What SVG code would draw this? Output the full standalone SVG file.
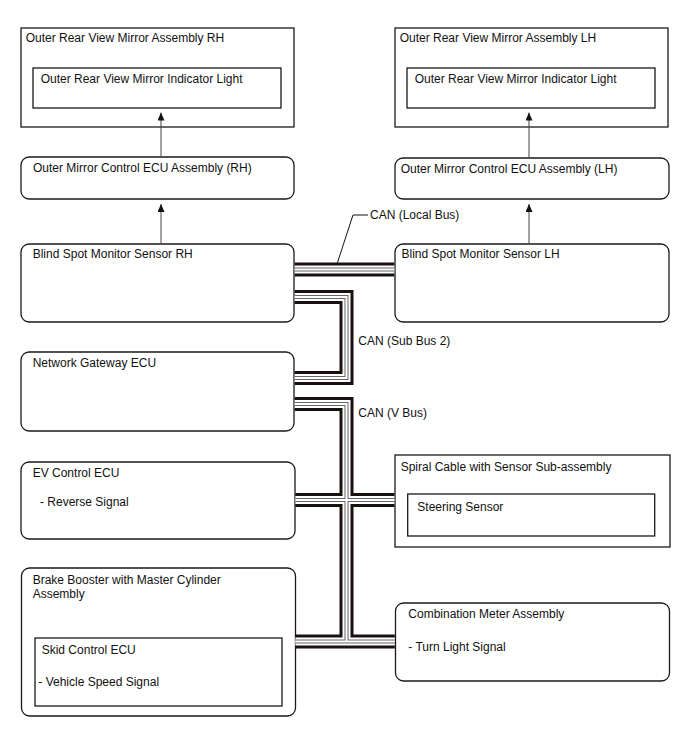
<svg xmlns="http://www.w3.org/2000/svg" width="688" height="755" viewBox="0 0 688 755">
<style>
text{font-family:"Liberation Sans",Arial,sans-serif;font-size:12px;fill:#111}
.box{fill:#fff;stroke:#1a1a1a;stroke-width:1.3}
.in{fill:#fff;stroke:#1a1a1a;stroke-width:1.3}
.arr{stroke:#444;stroke-width:1;fill:none}
.c1{fill:none;stroke:#1a1010;stroke-width:14;stroke-linejoin:miter;stroke-linecap:butt}
.c2{fill:none;stroke:#fff;stroke-width:8;stroke-linejoin:miter;stroke-linecap:butt}
.c3{fill:none;stroke:#666;stroke-width:4;stroke-linejoin:miter;stroke-linecap:butt}
.c4{fill:none;stroke:#fff;stroke-width:2;stroke-linejoin:miter;stroke-linecap:butt}
.lead{fill:none;stroke:#111;stroke-width:1}
</style>
<defs>
<marker id="ah" viewBox="0 0 8 7" refX="8" refY="3.5" markerWidth="8" markerHeight="7" markerUnits="userSpaceOnUse" orient="auto">
<path d="M0,0 L8,3.5 L0,7 z" fill="#111"/>
</marker>
<path id="bus" d="M294.7,269.5 H394.3 M294.7,297 H346.5 V378 H294.7 M294.7,404 H346.5 V641.5 M295.4,500 H394.3 M295.4,641.5 H394.8"/>
</defs>
<g id="mirror-rh">
<rect class="box" x="21" y="28" width="273" height="99"/>
<text x="25.7" y="42">Outer Rear View Mirror Assembly RH</text>
<rect class="in" x="33" y="68" width="248" height="40"/>
<text x="40.7" y="83">Outer Rear View Mirror Indicator Light</text>
</g>
<g id="mirror-lh">
<rect class="box" x="395" y="28" width="273" height="99"/>
<text x="399.7" y="42">Outer Rear View Mirror Assembly LH</text>
<rect class="in" x="407" y="68" width="248" height="40"/>
<text x="414.7" y="83">Outer Rear View Mirror Indicator Light</text>
</g>
<g id="ecu-rh">
<rect class="box" x="21" y="157" width="273" height="42" rx="8"/>
<text x="33" y="172">Outer Mirror Control ECU Assembly (RH)</text>
</g>
<g id="ecu-lh">
<rect class="box" x="395" y="158" width="274" height="41" rx="8"/>
<text x="400.7" y="172.5">Outer Mirror Control ECU Assembly (LH)</text>
</g>
<g id="bsm-rh">
<rect class="box" x="21" y="244" width="273" height="78" rx="8"/>
<text x="32.7" y="258.3">Blind Spot Monitor Sensor RH</text>
</g>
<g id="bsm-lh">
<rect class="box" x="395" y="244" width="274" height="78" rx="8"/>
<text x="401.5" y="258.3">Blind Spot Monitor Sensor LH</text>
</g>
<g id="gateway">
<rect class="box" x="21" y="352" width="273" height="79" rx="8"/>
<text x="32.7" y="367">Network Gateway ECU</text>
</g>
<g id="ev-ecu">
<rect class="box" x="21" y="462" width="274" height="77" rx="8"/>
<text x="32.7" y="477">EV Control ECU</text>
<text x="40" y="506">- Reverse Signal</text>
</g>
<g id="spiral-cable">
<rect class="box" x="395" y="455" width="275" height="92"/>
<text x="400.7" y="471">Spiral Cable with Sensor Sub-assembly</text>
<rect class="in" x="407.7" y="494" width="247" height="42"/>
<text x="417.3" y="511">Steering Sensor</text>
</g>
<g id="brake-booster">
<rect class="box" x="21.5" y="568" width="274" height="148" rx="8"/>
<text x="32.7" y="584">Brake Booster with Master Cylinder</text>
<text x="32.7" y="597.5">Assembly</text>
<rect class="in" x="35" y="638" width="247" height="68"/>
<text x="41.7" y="654">Skid Control ECU</text>
<text x="38.3" y="686">- Vehicle Speed Signal</text>
</g>
<g id="combination-meter">
<rect class="box" x="395.5" y="603" width="274" height="78" rx="8"/>
<text x="408.3" y="618.3">Combination Meter Assembly</text>
<text x="408.3" y="651">- Turn Light Signal</text>
</g>
<g id="connectors">
<use href="#bus" class="c1"/>
<use href="#bus" class="c2"/>
<use href="#bus" class="c3"/>
<use href="#bus" class="c4"/>
<line class="arr" x1="161" y1="156.4" x2="161" y2="112.5" marker-end="url(#ah)"/>
<line class="arr" x1="529" y1="157.4" x2="529" y2="112.5" marker-end="url(#ah)"/>
<line class="arr" x1="161" y1="243.4" x2="161" y2="204" marker-end="url(#ah)"/>
<line class="arr" x1="529" y1="243.4" x2="529" y2="204" marker-end="url(#ah)"/>
<polyline class="lead" points="368,215 353,215 337,264"/>
<text x="370" y="219">CAN (Local Bus)</text>
<text x="358.3" y="345">CAN (Sub Bus 2)</text>
<text x="358.3" y="417.3">CAN (V Bus)</text>
</g>
</svg>
